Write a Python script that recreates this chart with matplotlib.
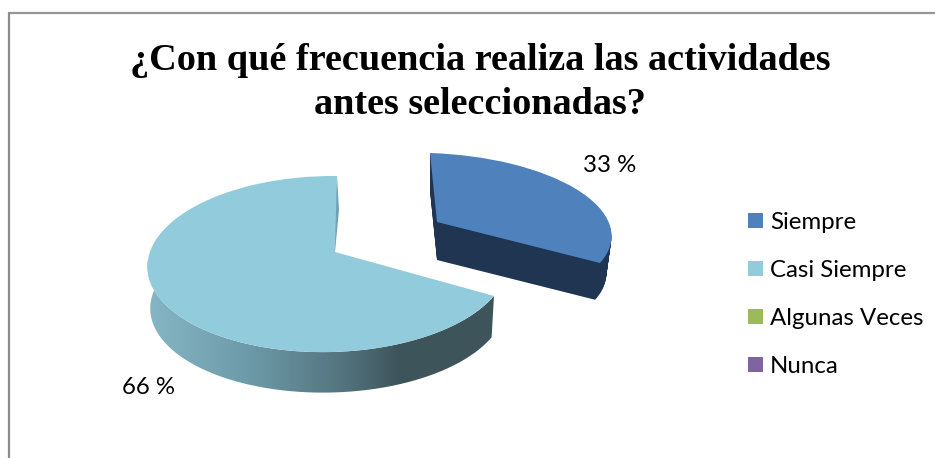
import numpy as np
import matplotlib
matplotlib.use("Agg")
import matplotlib.pyplot as plt
from matplotlib.transforms import Transform, Affine2D
from matplotlib.path import Path
from matplotlib.patches import PathPatch
from matplotlib.colors import LinearSegmentedColormap

categories = ["Siempre", "Casi Siempre", "Algunas Veces", "Nunca"]
values = [33, 66, 0, 0]
value_labels = ["33 %", "66 %"]
colors = ["#4F81BD", "#92CBDC", "#9BBB59", "#8064A2"]
title = "¿Con qué frecuencia realiza las actividades\nantes seleccionadas?"

W, H = 935, 458
SIDE_BLUE = "#1F3552"
WALL_CYAN = "#6FA3B3"


class Homography(Transform):
    input_dims = output_dims = 2

    def __init__(self, src, dst):
        super().__init__()
        A, b = [], []
        for (x, y), (u, v) in zip(src, dst):
            A.append([x, y, 1, 0, 0, 0, -u * x, -u * y]); b.append(u)
            A.append([0, 0, 0, x, y, 1, -v * x, -v * y]); b.append(v)
        self.m = np.append(np.linalg.solve(np.array(A, float), np.array(b, float)), 1).reshape(3, 3)

    def transform_non_affine(self, pts):
        pts = np.asarray(pts, float)
        q = np.c_[pts, np.ones(len(pts))] @ self.m.T
        return q[:, :2] / q[:, 2:3]


def ucirc(deg):
    return (np.cos(np.radians(deg)), np.sin(np.radians(deg)))


fig = plt.figure(figsize=(W / 100, H / 100), dpi=100, facecolor="white")
ax = fig.add_axes([0, 0, 1, 1])

# slice end angle follows from the data
frac = values[0] / sum(values)
end_deg = 90 - 360 * frac
mid_deg = 90 - 180 * frac

apex_b, apex_c = (437, 222), (335, 252)
H_blue = Homography([(0, 0), ucirc(90), ucirc(end_deg), ucirc(mid_deg)],
                    [apex_b, (430, 153), (600, 263), (576, 189)])
H_cyan = Homography([ucirc(90), ucirc(end_deg), ucirc(-90), ucirc(150)],
                    [(337, 176), (494, 296), (332, 352), (187, 211)])


def layer(idx, hom, extra, color, z):
    cols = ["none"] * 4
    cols[idx] = color
    wedges, _ = ax.pie(values, colors=cols, startangle=90, counterclock=False,
                       wedgeprops=dict(linewidth=0))
    for i, w in enumerate(wedges):
        w.set_visible(i == idx)
    wedges[idx].set_transform(hom + extra + ax.transData)
    wedges[idx].set_zorder(z)
    return wedges


def drop(apex, s, dy):
    return Affine2D().translate(-apex[0], -apex[1]).scale(s).translate(apex[0], apex[1] + dy)


# blue slice: extruded side, then top face
depth_b, shrink_b = 38, 0.97
for k in np.arange(depth_b, 0, -1):
    f = k / depth_b
    layer(0, H_blue, drop(apex_b, 1 - (1 - shrink_b) * f, depth_b * f), SIDE_BLUE, 2)
layer(0, H_blue, Affine2D(), colors[0], 3)

# cyan slice: gradient side, cut wall, then top face
depth_c, shrink_c = 42, 0.985
ts = np.linspace(end_deg, -190, 200)
unit = np.c_[np.cos(np.radians(ts)), np.sin(np.radians(ts))]
top_arc = H_cyan.transform_non_affine(unit)
bot_arc = drop(apex_c, shrink_c, depth_c).transform(top_arc)
side_path = Path(np.r_[top_arc, bot_arc[::-1], top_arc[:1]])
clip = PathPatch(side_path, transform=ax.transData, fc="none", ec="none")
ax.add_patch(clip)
cmap = LinearSegmentedColormap.from_list("side", [
    (0.0, "#86B6C4"), (0.30, "#6C99A7"), (0.55, "#547680"), (0.72, "#3E545B"), (1.0, "#3F555C")])
img = ax.imshow(np.linspace(0, 1, 256)[None, :], cmap=cmap, extent=(147, 497, 400, 260),
                aspect="auto", zorder=1, interpolation="bilinear")
img.set_clip_path(clip)
wall = PathPatch(Path([(337, 176), (339, 210), (335, 252), (331, 250), (337, 176)]),
                 fc=WALL_CYAN, ec="none", zorder=1)
ax.add_patch(wall)
wedges = layer(1, H_cyan, Affine2D(), colors[1], 2.5)

ax.set_aspect("auto")
ax.set_xlim(0, W)
ax.set_ylim(H, 0)
ax.set_axis_off()

# chart frame (top and left only are visible)
ax.plot([9, W], [13, 13], color="#969696", lw=1.6, solid_capstyle="butt", zorder=0)
ax.plot([9, 9], [12, H], color="#8C8C8C", lw=1.6, solid_capstyle="butt", zorder=0)

ui = ["Lato", "DejaVu Sans"]
ax.text(480, 43, title, family=["Liberation Serif"], weight="bold", fontsize=27.5,
        ha="center", va="top", linespacing=1.35, color="black", zorder=5)
ax.text(610, 165, value_labels[0], family=ui, fontsize=17.3, ha="center", va="center", color="black", zorder=5)
ax.text(148, 388, value_labels[1], family=ui, fontsize=17.3, ha="center", va="center", color="black", zorder=5)

# legend, built from the data categories
proxies = [plt.Rectangle((0, 0), 1, 1, fc=c, ec="none") for c in colors]
leg = ax.legend(proxies, categories, loc="upper left", bbox_to_anchor=(748 / W, 1 - 212 / H),
                frameon=False, prop={"family": ui, "size": 17.3}, borderpad=0, borderaxespad=0,
                handlelength=0.625, handleheight=0.625, handletextpad=0.29, labelspacing=1.125)

fig.savefig("out.png", dpi=100, facecolor="white")
